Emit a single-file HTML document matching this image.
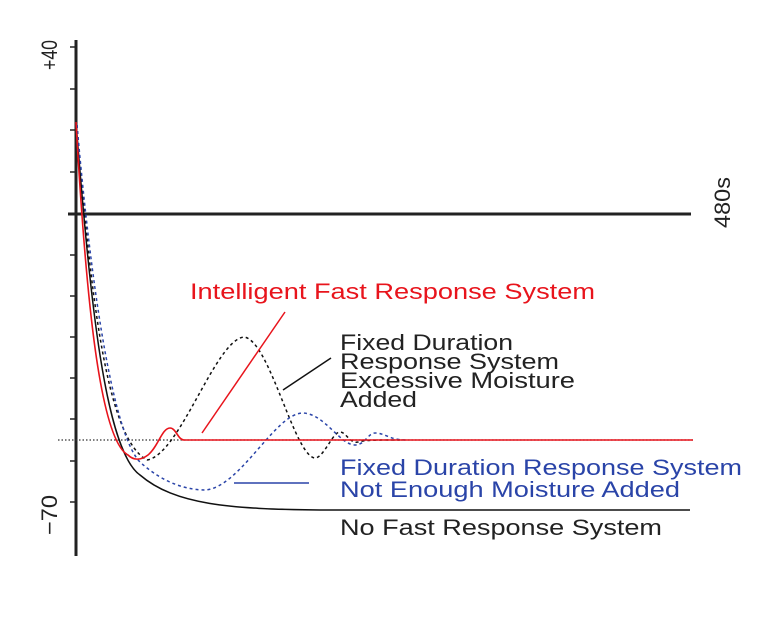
<!DOCTYPE html>
<html><head><meta charset="utf-8"><style>html,body{margin:0;padding:0;background:#fff}svg{display:block}</style></head>
<body>
<svg width="763" height="622" viewBox="0 0 763 622" xmlns="http://www.w3.org/2000/svg" font-family="Liberation Sans, sans-serif" font-size="22">
<rect width="763" height="622" fill="#fff"/>
<!-- axis -->
<line x1="76" y1="40" x2="76" y2="556" stroke="#222" stroke-width="3"/>
<g stroke="#222" stroke-width="1.5">
<line x1="70" y1="47" x2="76" y2="47"/><line x1="70" y1="89" x2="76" y2="89"/><line x1="70" y1="130" x2="76" y2="130"/>
<line x1="70" y1="172" x2="76" y2="172"/><line x1="70" y1="255" x2="76" y2="255"/><line x1="70" y1="296" x2="76" y2="296"/>
<line x1="70" y1="337" x2="76" y2="337"/><line x1="70" y1="378" x2="76" y2="378"/><line x1="70" y1="419" x2="76" y2="419"/>
<line x1="70" y1="461" x2="76" y2="461"/><line x1="70" y1="502" x2="76" y2="502"/>
</g>
<line x1="68" y1="214" x2="691" y2="214" stroke="#222" stroke-width="3"/>
<line x1="58" y1="440" x2="693" y2="440" stroke="#333" stroke-width="1.2" stroke-dasharray="1.5,2"/>
<!-- black solid -->
<path d="M76,122 C90,300 105,450 140,475 C175,505 230,509 320,510 L690,510" fill="none" stroke="#111" stroke-width="1.5"/>
<!-- black dotted -->
<path d="M77,125 C92,320 110,440 147,460 C180,455 215,340 244,337 C270,340 295,460 316,458 C325,455 333,432 340,432 C346,432 350,444 358,442 C365,440 375,440 400,440" fill="none" stroke="#111" stroke-width="1.5" stroke-dasharray="3,3"/>
<!-- blue dotted -->
<path d="M77,125 C95,330 118,440 140,462 C165,485 190,490 205,490 C240,488 275,413 303,413 C325,414 340,445 355,445 C365,445 368,433 375,433 C385,433 390,440 405,440" fill="none" stroke="#2a44a8" stroke-width="1.5" stroke-dasharray="3,3"/>
<!-- red -->
<path d="M76,122 C86,300 100,440 128,455 C133,460 140,461 148,455 C158,447 162,428 170,428 C176,428 178,440 184,440 L693,440" fill="none" stroke="#e8141c" stroke-width="1.6"/>
<!-- pointers -->
<line x1="202" y1="433" x2="285" y2="312" stroke="#e8141c" stroke-width="1.5"/>
<line x1="283" y1="390" x2="331" y2="358" stroke="#111" stroke-width="1.5"/>
<line x1="234" y1="483" x2="309" y2="483" stroke="#2a44a8" stroke-width="1.5"/>
<!-- labels -->
<text x="190" y="299" fill="#e8141c" textLength="405" lengthAdjust="spacingAndGlyphs">Intelligent Fast Response System</text>
<g fill="#222">
<text x="340" y="350" textLength="173" lengthAdjust="spacingAndGlyphs">Fixed Duration</text>
<text x="340" y="369" textLength="219" lengthAdjust="spacingAndGlyphs">Response System</text>
<text x="340" y="388" textLength="235" lengthAdjust="spacingAndGlyphs">Excessive Moisture</text>
<text x="340" y="407" textLength="77" lengthAdjust="spacingAndGlyphs">Added</text>
<text x="340" y="535" textLength="322" lengthAdjust="spacingAndGlyphs">No Fast Response System</text>
</g>
<g fill="#2a44a8">
<text x="340" y="475" textLength="402" lengthAdjust="spacingAndGlyphs">Fixed Duration Response System</text>
<text x="340" y="497" textLength="340" lengthAdjust="spacingAndGlyphs">Not Enough Moisture Added</text>
</g>
<g fill="#222">
<text transform="translate(730,228) rotate(-90)" textLength="51" lengthAdjust="spacingAndGlyphs">480s</text>
<text transform="translate(57,70) rotate(-90)" textLength="30" lengthAdjust="spacingAndGlyphs">+40</text>
<text transform="translate(57,535) rotate(-90)" textLength="40" lengthAdjust="spacingAndGlyphs">−70</text>
</g>
</svg>
</body></html>
